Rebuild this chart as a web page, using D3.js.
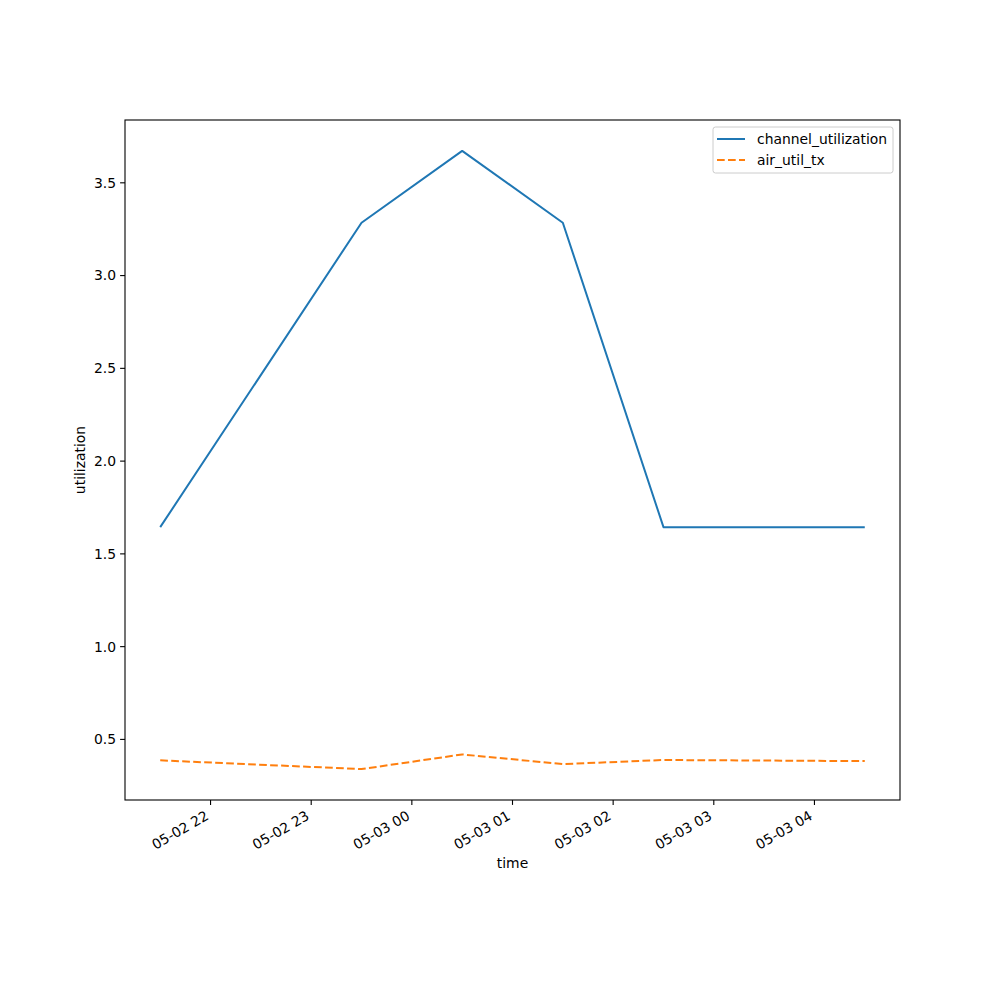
<!DOCTYPE html>
<html>
<head>
<meta charset="utf-8">
<script src="https://cdn.jsdelivr.net/npm/d3@7"></script>
<style>
  body { margin: 0; background: #fff; }
  text { font-family: "DejaVu Sans", sans-serif; }
</style>
</head>
<body>
<svg id="chart" width="1000" height="1000"></svg>
<script>
const times = ["2023-05-02T21:30", "2023-05-02T23:30", "2023-05-03T00:30", "2023-05-03T01:30", "2023-05-03T02:30", "2023-05-03T04:30"];
const channelUtilization = [1.644, 3.285, 3.672, 3.285, 1.644, 1.644];
const airUtilTx = [0.387, 0.340, 0.419, 0.367, 0.389, 0.383];
const seriesNames = ["channel_utilization", "air_util_tx"];
const yTicks = [0.5, 1.0, 1.5, 2.0, 2.5, 3.0, 3.5];

const parse = d3.timeParse("%Y-%m-%dT%H:%M");
const dates = times.map(parse);

const svg = d3.select("#chart");
const L = 125, R = 900, T = 120, B = 800;
const FS = "13.9px";

const xMin = d3.min(dates), xMax = d3.max(dates);
const xPad = (xMax - xMin) * 0.05;
const x = d3.scaleTime().domain([new Date(+xMin - xPad), new Date(+xMax + xPad)]).range([L, R]);

const allY = channelUtilization.concat(airUtilTx);
const yMin = d3.min(allY), yMax = d3.max(allY);
const yPad = (yMax - yMin) * 0.05;
const y = d3.scaleLinear().domain([yMin - yPad, yMax + yPad]).range([B, T]);

// lines
const line = d3.line().x((d, i) => x(dates[i])).y(d => y(d));
svg.append("path").datum(channelUtilization).attr("d", line)
  .attr("fill", "none").attr("stroke", "#1f77b4").attr("stroke-width", 2)
  .attr("stroke-linejoin", "round").attr("stroke-linecap", "butt");
svg.append("path").datum(airUtilTx).attr("d", line)
  .attr("fill", "none").attr("stroke", "#ff7f0e").attr("stroke-width", 2)
  .attr("stroke-dasharray", "7.7,3.3").attr("stroke-linejoin", "round");

// frame
svg.append("rect").attr("x", L).attr("y", T).attr("width", R - L).attr("height", B - T)
  .attr("fill", "none").attr("stroke", "#000").attr("stroke-width", 1.1);

// x axis
const xTicks = d3.timeHour.every(1).range(x.domain()[0], x.domain()[1]);
const fmt = d3.timeFormat("%m-%d %H");
const xg = svg.append("g");
xTicks.forEach(t => {
  const px = x(t);
  xg.append("line").attr("x1", px).attr("x2", px).attr("y1", B).attr("y2", B + 4.9)
    .attr("stroke", "#000").attr("stroke-width", 1.1);
  xg.append("text").attr("transform", `translate(${px - 6},${B + 10}) rotate(-30)`)
    .attr("text-anchor", "end").attr("dy", "0.72em")
    .attr("font-size", FS).attr("fill", "#000").text(fmt(t));
});
svg.append("text").attr("x", (L + R) / 2).attr("y", 868).attr("text-anchor", "middle")
  .attr("font-size", FS).text("time");

// y axis
const yg = svg.append("g");
yTicks.forEach(v => {
  const py = y(v);
  yg.append("line").attr("x1", L - 4.9).attr("x2", L).attr("y1", py).attr("y2", py)
    .attr("stroke", "#000").attr("stroke-width", 1.1);
  yg.append("text").attr("x", L - 9).attr("y", py).attr("dy", "0.35em")
    .attr("text-anchor", "end").attr("font-size", FS).text(v.toFixed(1));
});
svg.append("text").attr("transform", `translate(85,${(T + B) / 2}) rotate(-90)`)
  .attr("text-anchor", "middle").attr("font-size", FS).text("utilization");

// legend
const lg = svg.append("g");
lg.append("rect").attr("x", 713).attr("y", 127).attr("width", 180).attr("height", 46)
  .attr("rx", 2.5).attr("fill", "#fff").attr("fill-opacity", 0.8)
  .attr("stroke", "#cccccc").attr("stroke-width", 1);
const colors = ["#1f77b4", "#ff7f0e"];
const dashes = [null, "7.7,3.3"];
seriesNames.forEach((n, i) => {
  const cy = 139 + i * 21;
  lg.append("line").attr("x1", 717).attr("x2", 745).attr("y1", cy).attr("y2", cy)
    .attr("stroke", colors[i]).attr("stroke-width", 2).attr("stroke-dasharray", dashes[i]);
  lg.append("text").attr("x", 757).attr("y", cy).attr("dy", "0.35em")
    .attr("font-size", FS).text(n);
});
</script>
</body>
</html>
